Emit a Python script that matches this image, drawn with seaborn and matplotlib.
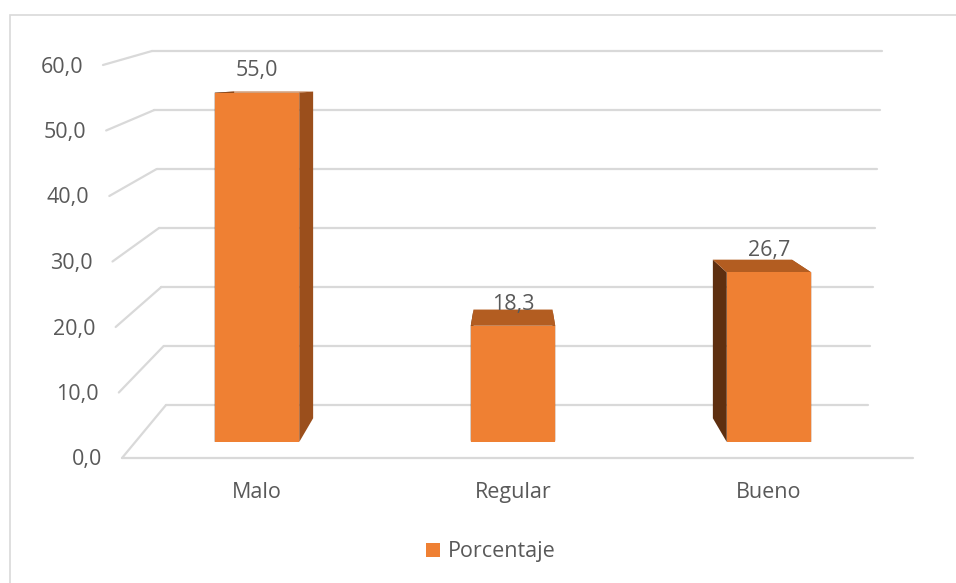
import matplotlib
matplotlib.use("Agg")
import matplotlib.pyplot as plt
import numpy as np
import pandas as pd
import seaborn as sns
from matplotlib.lines import Line2D
from matplotlib.patches import Polygon, Rectangle
from matplotlib.transforms import IdentityTransform

# data
categorias = ["Malo", "Regular", "Bueno"]
porcentajes = [55.0, 18.3, 26.7]
serie = "Porcentaje"
valores_y = [0, 10, 20, 30, 40, 50, 60]
etiquetas_y = ["0,0", "10,0", "20,0", "30,0", "40,0", "50,0", "60,0"]

df = pd.DataFrame({"categoria": categorias, "porcentaje": porcentajes, "serie": serie})

W, H = 956, 583
GRIS = "#D9D9D9"
TEXTO = "#595959"
NARANJA = "#EF8033"


def fx(px):
    return px / W


def fy(py):
    return 1 - py / H


sns.set_theme(style="white")
plt.rcParams["font.family"] = ["Open Sans", "DejaVu Sans"]
FS = 15.5

fig = plt.figure(figsize=(W / 100, H / 100), dpi=100)

# outer frame of the chart area
fig.add_artist(Rectangle((fx(10), -0.05), 1.2, fy(15) + 0.05, transform=fig.transFigure,
                         fill=False, edgecolor=GRIS, lw=1.2))

# back wall with its gridlines (slightly trapezoidal, like the 3D original)
ax_back = fig.add_axes([fx(152), fy(405), (882 - 152) / W, (405 - 51) / H])
ax_back.set_xlim(0, 1)
ax_back.set_ylim(0, 60)
ax_back.axis("off")
for v in valores_y:
    ax_back.axhline(v, xmin=(166 - 0.233 * v - 152) / 730, xmax=(868 + 0.233 * v - 152) / 730,
                    color=GRIS, lw=1.6, clip_on=False)


def frente(v):
    return 122 - 0.317 * v, 458 - 6.55 * v


def fondo(v):
    return 166 - 0.233 * v, 405 - 5.9 * v


# side wall lines and value axis labels
for v, lab in zip(valores_y, etiquetas_y):
    (x0, y0), (x1, y1) = frente(v), fondo(v)
    fig.add_artist(Line2D([fx(x0), fx(x1)], [fy(y0), fy(y1)], transform=fig.transFigure,
                          color=GRIS, lw=1.6))
    fig.text(fx(x0 - 20), fy(y0 + 2), lab, ha="right", va="center", fontsize=FS, color=TEXTO)

# floor front edge
x0, y0 = frente(0)
fig.add_artist(Line2D([fx(x0), fx(913)], [fy(y0), fy(y0)], transform=fig.transFigure,
                      color=GRIS, lw=1.6))

# bars
ax = fig.add_axes([fx(129), fy(442), 768 / W, 378 / H])
sns.barplot(data=df, x="categoria", y="porcentaje", hue="serie", palette=[NARANJA],
            width=0.33, linewidth=0, saturation=1, ax=ax)
ax.set_xlim(-0.5, 2.5)
ax.set_ylim(0, 59.5)
ax.patch.set_alpha(0)
for s in ax.spines.values():
    s.set_visible(False)
ax.set_xlabel("")
ax.set_ylabel("")
ax.set_yticks([])
ax.tick_params(axis="x", length=0, pad=29, labelsize=FS, labelcolor=TEXTO)

# pseudo 3D faces
k = 0.065
vp = ax.transData.transform((1, 57.5))
for bar in ax.containers[0]:
    bx, bw, bh = bar.get_x(), bar.get_width(), bar.get_height()
    f = ax.transData.transform([(bx, 0), (bx + bw, 0), (bx + bw, bh), (bx, bh)])
    b = f + k * (vp - f)
    bl, br, tr, tl = f
    bbl, bbr, btr, btl = b
    caras = [([bl, tl, btl, bbl], "#5E2F10"),
             ([br, tr, btr, bbr], "#9B4F1C"),
             ([tl, tr, btr, btl], "#B35D21")]
    for pts, col in caras:
        ax.add_patch(Polygon(pts, closed=True, transform=IdentityTransform(), facecolor=col,
                             edgecolor="none", zorder=bar.get_zorder() - 0.1, clip_on=False))

ax.bar_label(ax.containers[0], labels=[f"{v:.1f}".replace(".", ",") for v in porcentajes],
             padding=8, fontsize=FS, color=TEXTO)

handles, labels = ax.get_legend_handles_labels()
ax.legend(handles, labels, loc="center", bbox_to_anchor=(fx(491), fy(552)),
          bbox_transform=fig.transFigure, frameon=False, fontsize=FS, labelcolor=TEXTO,
          handlelength=0.65, handleheight=0.65, handletextpad=0.35)

fig.savefig("out.png", dpi=100)
